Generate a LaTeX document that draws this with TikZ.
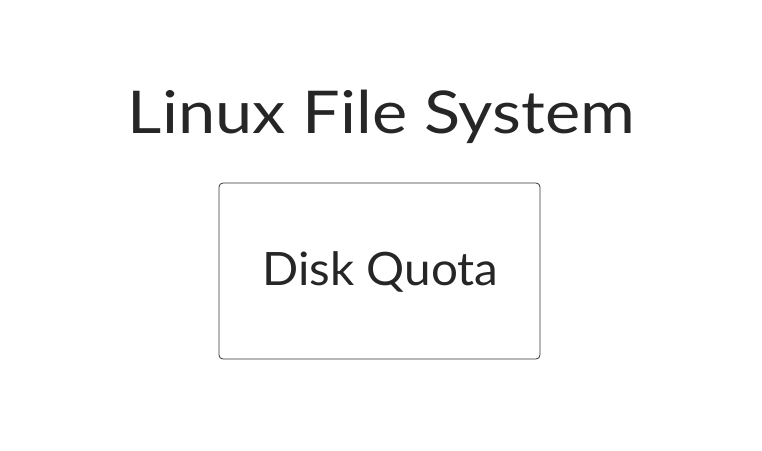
\documentclass[tikz,border=0pt]{standalone}
\usepackage{fontspec}
\usepackage{graphicx}
\setmainfont{Lato}
\begin{document}
\begin{tikzpicture}[x=1pt,y=-1pt,
  box/.style={draw=black!80, line width=0.8pt, rounded corners=4pt, minimum width=321pt, minimum height=176pt, inner sep=0pt},
  titletext/.style={font=\fontsize{59}{60}\selectfont, text=black!85, inner sep=0pt},
  boxtext/.style={font=\fontsize{46}{50}\selectfont, text=black!85, inner sep=0pt}]
\useasboundingbox (0,0) rectangle (762,450);
\node[titletext, anchor=base] (title) at (381.5,133) {\scalebox{1.13}[1]{Linux File System}};
\node[box] (quota) at (379.5,271) {};
\node[boxtext, anchor=base] (quotatext) at (380.5,285) {\scalebox{1.035}[1]{Disk Quota}};
\end{tikzpicture}
\end{document}
